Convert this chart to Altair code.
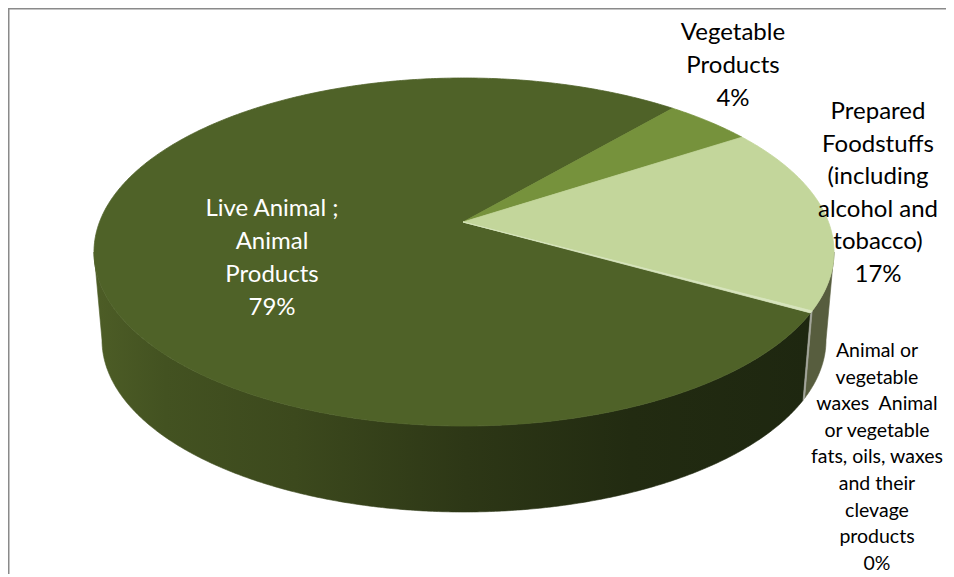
import math
import pandas as pd
import altair as alt

# ---------------- data ----------------
categories = [
    "Live Animal ; Animal Products",
    "Vegetable Products",
    "Prepared Foodstuffs (including alcohol and tobacco)",
    "Animal or vegetable waxes  Animal or vegetable fats, oils, waxes and their clevage products",
]
values = [79, 4, 17, 0.2]
label_lines = [
    ["Live Animal ;", "Animal", "Products"],
    ["Vegetable", "Products"],
    ["Prepared", "Foodstuffs", "(including", "alcohol and", "tobacco)"],
    ["Animal or", "vegetable", "waxes\u00a0 Animal", "or vegetable", "fats, oils, waxes",
     "and their", "clevage", "products"],
]

# ---------------- styles / layout ----------------
top_colors = ["#4F6228", "#76923C", "#C3D69B", "#D7E4BD"]
side_colors = ["#2C3615", "#5F7A2E", "#575D3E", "#A2A59A"]
W, H, OFF = 938, 566, 8
TOP = dict(cx=464, cy=252, rx=370, ry=174)   # top face ellipse
BOT = dict(cx=464, cy=340, rx=362, ry=172)   # bottom edge ellipse
APEX = (463, 222)
START_DEG = 20.5
# position of the first line of each label
LABEL_POS = [(272, 209), (733, 33), (878, 112), (877, 351)]
LABEL_STYLE = [("#FFFFFF", 24, 33), ("#000000", 24, 33), ("#000000", 24, 32.6), ("#000000", 19.5, 26.6)]

total = sum(values)
pcts = [round(v / total * 100) for v in values]


def ell(e, deg):
    t = math.radians(deg)
    return e["cx"] + e["rx"] * math.cos(t), e["cy"] + e["ry"] * math.sin(t)


def arc(e, a, b):
    n = max(2, int(abs(b - a) / 0.5) + 1)
    return [ell(e, a + (b - a) * i / (n - 1)) for i in range(n)]


# slice angle ranges (clockwise on screen) from cumulative values
ranges = []
cum = 0.0
for v in values:
    a0 = START_DEG + 360 * cum / total
    cum += v
    a1 = START_DEG + 360 * cum / total
    ranges.append((a0, a1))

top_rows, side_rows = [], []
for i, (cat, (a0, a1)) in enumerate(zip(categories, ranges)):
    pts = [APEX] + arc(TOP, a0, a1) + [APEX]
    for k, (x, y) in enumerate(pts):
        top_rows.append(dict(cat=cat, col=top_colors[i], k=k, x=x, y=y))
    # visible front side: intersection with [0,180] (+360 wrap)
    for base in (0, 360):
        lo, hi = max(a0, base), min(a1, base + 180)
        if hi > lo:
            spts = arc(TOP, lo, hi) + arc(BOT, hi, lo)
            spts.append(spts[0])
            for k, (x, y) in enumerate(spts):
                side_rows.append(dict(cat=cat, col=side_colors[i], part=f"{cat}-{base}",
                                      k=k, x=x, y=y))

top_df = pd.DataFrame(top_rows)
side_df = pd.DataFrame(side_rows)

xs = alt.Scale(domain=[OFF, OFF + W], nice=False, zero=False)
ys = alt.Scale(domain=[OFF, OFF + H], nice=False, zero=False, reverse=True)
X = alt.X("x:Q", scale=xs, axis=None)
Y = alt.Y("y:Q", scale=ys, axis=None)
ORD = alt.Order("k:Q")

live_grad = alt.LinearGradient(
    gradient="linear", x1=0, x2=1, y1=0, y2=0,
    stops=[
        alt.GradientStop(offset=0.0, color="#4D5D26"),
        alt.GradientStop(offset=0.10, color="#435221"),
        alt.GradientStop(offset=0.28, color="#3C491D"),
        alt.GradientStop(offset=0.52, color="#2D3716"),
        alt.GradientStop(offset=0.75, color="#222B11"),
        alt.GradientStop(offset=1.0, color="#1E2710"),
    ],
)

side_live = alt.Chart(side_df[side_df["cat"] == categories[0]]).mark_line(
    fill=live_grad, stroke=live_grad, strokeWidth=0.6
).encode(x=X, y=Y, order=ORD, detail="part:N")

side_other = alt.Chart(side_df[side_df["cat"] != categories[0]]).mark_line(
    filled=True, strokeWidth=0.6
).encode(
    x=X, y=Y, order=ORD, detail="part:N",
    fill=alt.Fill("col:N", scale=None),
    stroke=alt.Stroke("col:N", scale=None),
)

top = alt.Chart(top_df).mark_line(filled=True, strokeWidth=0.8).encode(
    x=X, y=Y, order=ORD, detail="cat:N",
    fill=alt.Fill("col:N", scale=None),
    stroke=alt.Stroke("col:N", scale=None),
)

text_layers = []
for i, cat in enumerate(categories):
    col, fs, lh = LABEL_STYLE[i]
    txt = "\n".join(label_lines[i] + [f"{pcts[i]}%"])
    d = pd.DataFrame({"x": [LABEL_POS[i][0]], "y": [LABEL_POS[i][1]], "t": [txt]})
    text_layers.append(
        alt.Chart(d).mark_text(
            font="Lato", fontSize=fs, lineHeight=lh, lineBreak="\n",
            align="center", baseline="middle", color=col,
        ).encode(x=X, y=Y, text="t:N")
    )

frame = pd.DataFrame({"a": [0]})
rule_top = alt.Chart(frame).mark_rule(color="#8A8A8A", strokeWidth=1.5).encode(
    x=alt.value(0), x2=alt.value(W), y=alt.value(0.75))
rule_left = alt.Chart(frame).mark_rule(color="#8A8A8A", strokeWidth=1.5).encode(
    x=alt.value(0.75), y=alt.value(0), y2=alt.value(H))

chart = alt.layer(side_live, side_other, top, *text_layers, rule_top, rule_left).properties(
    width=W, height=H, padding=0, autosize=alt.AutoSizeParams(type="none"),
    background="white",
).configure_view(stroke=None)

chart.save("out.html", embed_options={"renderer": "svg", "actions": False})
